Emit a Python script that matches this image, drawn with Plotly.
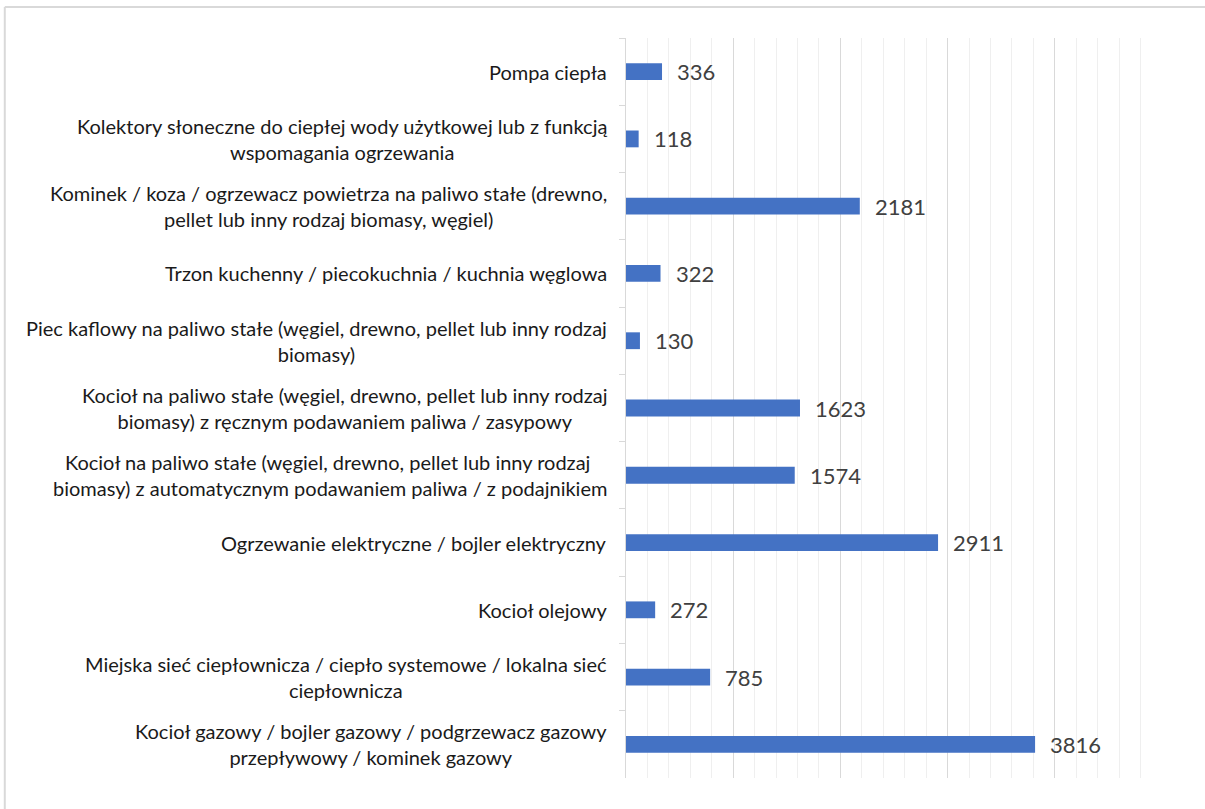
import plotly.graph_objects as go

categories = [
    "Pompa ciepła",
    "Kolektory słoneczne do ciepłej wody użytkowej lub z funkcją<br>wspomagania ogrzewania",
    "Kominek / koza / ogrzewacz powietrza na paliwo stałe (drewno,<br>pellet lub inny rodzaj biomasy, węgiel)",
    "Trzon kuchenny / piecokuchnia / kuchnia węglowa",
    "Piec kaflowy na paliwo stałe (węgiel, drewno, pellet lub inny rodzaj<br>biomasy)",
    "Kocioł na paliwo stałe (węgiel, drewno, pellet lub inny rodzaj<br>biomasy) z ręcznym podawaniem paliwa / zasypowy",
    "Kocioł na paliwo stałe (węgiel, drewno, pellet lub inny rodzaj <br>biomasy) z automatycznym podawaniem paliwa / z podajnikiem",
    "Ogrzewanie elektryczne / bojler elektryczny",
    "Kocioł olejowy",
    "Miejska sieć ciepłownicza / ciepło systemowe / lokalna sieć<br>ciepłownicza",
    "Kocioł gazowy / bojler gazowy / podgrzewacz gazowy<br>przepływowy / kominek gazowy",
]
values = [336, 118, 2181, 322, 130, 1623, 1574, 2911, 272, 785, 3816]

BAR_COLOR = "#4472C4"
FONT = "Lato"

fig = go.Figure()
fig.add_trace(go.Bar(
    x=values,
    y=categories,
    orientation="h",
    width=0.25,
    marker=dict(color=BAR_COLOR, line=dict(width=0)),
    hoverinfo="x+y",
))

for c, v in zip(categories, values):
    # value label
    fig.add_annotation(
        x=v, y=c, xref="x", yref="y",
        text=str(v), showarrow=False,
        xanchor="left", yanchor="middle", xshift=13, yshift=0,
        font=dict(family=FONT, size=22, color="#404040"),
    )
    # category label (centre-aligned lines, right-anchored block)
    fig.add_annotation(
        x=0, y=c, xref="paper", yref="y",
        text=c, showarrow=False, align="center",
        xanchor="right", yanchor="middle", xshift=-17,
        font=dict(family=FONT, size=20, color="#1a1a1a"),
    )

# chart frame fragments (top and left border of the chart area)
fig.add_shape(type="line", xref="paper", yref="paper",
              x0=-1.159, x1=1.2, y0=1.0419, y1=1.0419,
              line=dict(color="#d9d9d9", width=2))
fig.add_shape(type="line", xref="paper", yref="paper",
              x0=-1.159, x1=-1.159, y0=1.0419, y1=-0.05,
              line=dict(color="#d9d9d9", width=2))

fig.update_layout(
    width=1205, height=809,
    margin=dict(l=626, r=43, t=38, b=31),
    paper_bgcolor="white", plot_bgcolor="white",
    showlegend=False,
    font=dict(family=FONT, size=20, color="#1a1a1a"),
    xaxis=dict(
        range=[0, 5000], dtick=1000, showgrid=True, gridcolor="#d9d9d9", gridwidth=1,
        minor=dict(dtick=200, showgrid=True, gridcolor="#efefef", gridwidth=1),
        showticklabels=False, zeroline=False, showline=False, fixedrange=True,
    ),
    yaxis=dict(
        type="category", autorange="reversed",
        showline=True, linecolor="#d9d9d9", linewidth=1,
        tickson="boundaries", ticks="outside", ticklen=6, tickcolor="#d9d9d9",
        showgrid=False, showticklabels=False, fixedrange=True,
    ),
)

fig.write_html("out.html", config={"displayModeBar": False},
               post_script="document.body.style.margin='0';")
